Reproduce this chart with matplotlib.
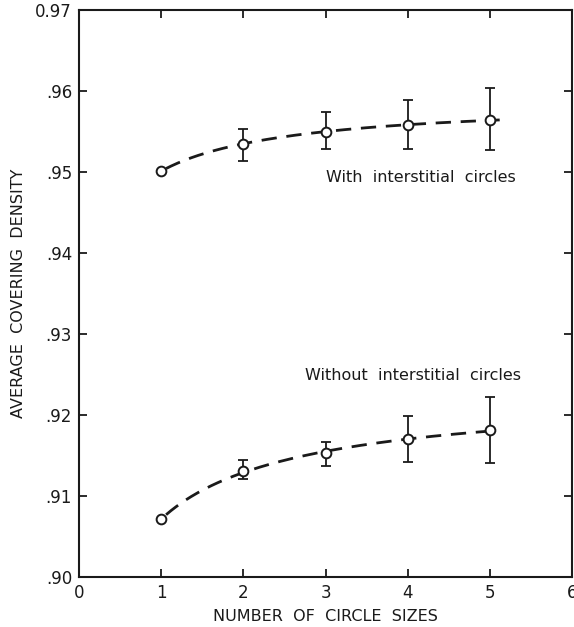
import numpy as np
import matplotlib
matplotlib.use("Agg")
import matplotlib.pyplot as plt

# number of circle sizes
sizes = [1, 2, 3, 4, 5]

# average covering density, with interstitial circles
with_mean = [0.9501, 0.9535, 0.9550, 0.9558, 0.9564]
with_low = [0.9501, 0.9514, 0.9529, 0.9528, 0.9527]
with_high = [0.9501, 0.9553, 0.9574, 0.9589, 0.9604]

# average covering density, without interstitial circles
without_mean = [0.9071, 0.9131, 0.9153, 0.9170, 0.9181]
without_low = [0.9071, 0.9121, 0.9137, 0.9142, 0.9141]
without_high = [0.9071, 0.9144, 0.9167, 0.9199, 0.9222]

y_ticks = [0.90, 0.91, 0.92, 0.93, 0.94, 0.95, 0.96, 0.97]
y_labels = [".90", ".91", ".92", ".93", ".94", ".95", ".96", "0.97"]

INK = "#1a1a1a"

plt.rcParams["font.family"] = "DejaVu Sans"
fig = plt.figure(figsize=(5.74, 6.27), dpi=100)
ax = fig.add_axes([79 / 574, 50 / 627, 493 / 574, 567 / 627])


def draw_series(mean, low, high):
    x = np.array(sizes, dtype=float)
    m = np.array(mean)
    # smooth trend curve: quadratic fit in log(x)
    coef = np.polyfit(np.log(x), m, 2)
    xs = np.linspace(1.06, 5.12, 200)
    ax.plot(xs, np.polyval(coef, np.log(xs)), color=INK, lw=2.0,
            dashes=(5.5, 3.5), zorder=2)
    lo = m - np.array(low)
    hi = np.array(high) - m
    ax.errorbar(x[1:], m[1:], yerr=[lo[1:], hi[1:]], fmt="none",
                ecolor=INK, elinewidth=1.3, capsize=3.5, capthick=1.3,
                zorder=3)
    ax.plot(x, m, "o", ms=7, mfc="white", mec=INK, mew=1.4, zorder=4)


draw_series(with_mean, with_low, with_high)
draw_series(without_mean, without_low, without_high)

ax.set_xlim(0, 6)
ax.set_ylim(0.90, 0.97)
ax.set_xticks(range(7))
ax.set_xticklabels(["0", "1", "2", "3", "4", "5", "6"])
ax.set_yticks(y_ticks)
ax.set_yticklabels(y_labels)
ax.tick_params(direction="in", length=6, width=1.3, top=True, right=True,
               labelsize=12, colors=INK, pad=5)
ax.tick_params(axis="x", pad=5)
for s in ax.spines.values():
    s.set_linewidth(1.5)
    s.set_color(INK)

ax.set_xlabel("NUMBER  OF  CIRCLE  SIZES", fontsize=11.5, labelpad=5,
              color=INK)
ax.set_ylabel("AVERAGE  COVERING  DENSITY", fontsize=11.5, labelpad=7,
              color=INK)

ax.text(3.01, 0.9493, "With  interstitial  circles", fontsize=11.5,
        color=INK, va="center")
ax.text(2.75, 0.9249, "Without  interstitial  circles", fontsize=11.5,
        color=INK, va="center")

fig.savefig("out.png", dpi=100)
